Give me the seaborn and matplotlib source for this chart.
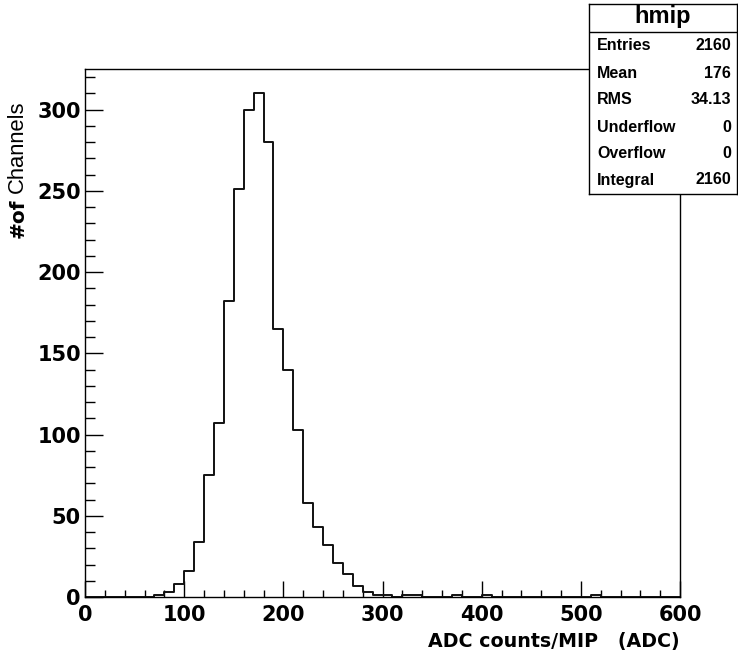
import matplotlib.pyplot as plt
import numpy as np
import pandas as pd
import seaborn as sns
from matplotlib.ticker import MultipleLocator

# histogram contents (left edge of each 10-ADC bin, entries)
bin_left = [70, 80, 90, 100, 110, 120, 130, 140, 150, 160, 170, 180, 190,
            200, 210, 220, 230, 240, 250, 260, 270, 280, 290, 300, 320, 330,
            370, 400, 510]
counts = [1, 3, 8, 16, 34, 75, 107, 182, 251, 300, 310, 280, 165,
          140, 103, 58, 43, 32, 21, 14, 7, 3, 1, 1, 1, 1,
          1, 1, 1]

stat_names = ['Entries', 'Mean', 'RMS', 'Underflow', 'Overflow', 'Integral']
stat_values = ['2160', '176', '34.13', '0', '0', '2160']

sns.set_style('white')
plt.rcParams['font.family'] = ['Liberation Sans', 'DejaVu Sans']
plt.rcParams['text.color'] = 'black'
plt.rcParams['axes.labelcolor'] = 'black'
plt.rcParams['xtick.color'] = 'black'
plt.rcParams['ytick.color'] = 'black'

W, H = 738, 655
fig = plt.figure(figsize=(W / 100, H / 100), dpi=100)
ax = fig.add_axes([85 / W, (H - 597) / H, 595 / W, 528 / H])

df = pd.DataFrame({'adc': np.array(bin_left) + 5.0, 'n': counts})
sns.histplot(data=df, x='adc', weights='n', bins=60, binrange=(0, 600),
             element='step', fill=False, color='#111111', linewidth=1.4, ax=ax)

ax.set_xlim(0, 600)
ax.set_ylim(0, 325)
ax.xaxis.set_major_locator(MultipleLocator(100))
ax.xaxis.set_minor_locator(MultipleLocator(20))
ax.yaxis.set_major_locator(MultipleLocator(50))
ax.yaxis.set_minor_locator(MultipleLocator(10))
ax.tick_params(which='both', direction='in', bottom=True, left=True,
               top=False, right=False, colors='black')
ax.tick_params(axis='x', which='major', length=11.5, width=1, pad=6)
ax.tick_params(axis='x', which='minor', length=5, width=1)
ax.tick_params(axis='y', which='major', length=13, width=1, pad=3)
ax.tick_params(axis='y', which='minor', length=7, width=1)
for lab in ax.get_xticklabels() + ax.get_yticklabels():
    lab.set_fontfamily('DejaVu Sans')
    lab.set_fontweight('bold')
    lab.set_fontsize(15)
for s in ax.spines.values():
    s.set_color('black')
    s.set_linewidth(1)

ax.set_xlabel('ADC counts/MIP   (ADC)', fontsize=13.7, fontweight='bold',
              family='DejaVu Sans', loc='right')
ax.xaxis.set_label_coords(1.0, -0.066)
# y title: "#of" bold, "Channels" regular
ax.set_ylabel('Channels', fontsize=15.8, loc='top')
ax.yaxis.set_label_coords(-0.096, 0.941)
fig.text(28 / W, (H - 238) / H, '#of', fontsize=14.5, fontweight='bold',
         family='DejaVu Sans', rotation=90, rotation_mode='anchor',
         ha='left', va='bottom')

# ROOT style statistics box
bx = fig.add_axes([589 / W, (H - 194) / H, 148 / W, 190 / H])
bx.set_xticks([])
bx.set_yticks([])
bx.set_xlim(0, 1)
bx.set_ylim(0, 1)
bx.set_facecolor('white')
for s in bx.spines.values():
    s.set_color('black')
    s.set_linewidth(1)
bx.axhline((194 - 32) / 190, color='black', linewidth=1)
bx.text(0.5, (194 - 17) / 190, 'hmip', ha='center', va='center',
        fontsize=17, fontweight='bold')
row_y = [46, 73, 100, 127, 154, 180]
for name, val, yp in zip(stat_names, stat_values, row_y):
    y = (194 - yp) / 190
    bx.text(0.054, y, name, ha='left', va='center', fontsize=11.5, fontweight='bold')
    bx.text(0.96, y, val, ha='right', va='center', fontsize=11.5, fontweight='bold')

fig.savefig('out.png', dpi=100)
